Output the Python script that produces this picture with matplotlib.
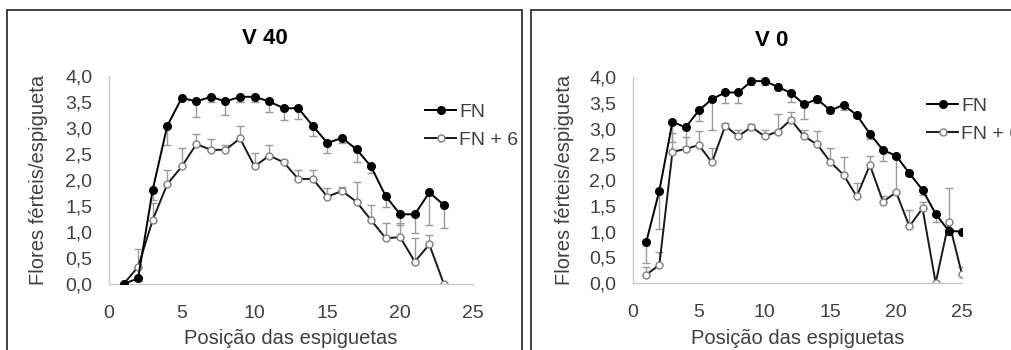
import matplotlib
matplotlib.use('Agg')
import matplotlib.pyplot as plt
from matplotlib.patches import Rectangle

plt.rcParams['font.family'] = ['Liberation Sans', 'DejaVu Sans']

# V 40 panel
pos_v40 = list(range(1, 24))
fn_v40 = [0.0, 0.11, 1.81, 3.04, 3.58, 3.51, 3.60, 3.51, 3.60, 3.60, 3.51, 3.38,
          3.38, 3.04, 2.71, 2.81, 2.59, 2.26, 1.69, 1.34, 1.34, 1.76, 1.52]
fn_v40_err = [0.0, 0.05, 0.20, 0.37, 0.05, 0.30, 0.10, 0.26, 0.10, 0.10, 0.20, 0.23,
              0.20, 0.20, 0.20, 0.10, 0.24, 0.12, 0.20, 0.20, 0.35, 0.63, 0.45]
fn6_v40 = [0.0, 0.33, 1.23, 1.92, 2.26, 2.69, 2.58, 2.58, 2.80, 2.26, 2.47, 2.34,
           2.02, 2.02, 1.68, 1.79, 1.58, 1.23, 0.88, 0.90, 0.43, 0.76, 0.0]
fn6_v40_err = [0.0, 0.34, 0.33, 0.27, 0.36, 0.19, 0.20, 0.10, 0.23, 0.25, 0.20, 0.05,
               0.17, 0.17, 0.16, 0.08, 0.39, 0.28, 0.29, 0.28, 0.45, 0.18, 0.0]

# V 0 panel
pos_v0 = list(range(1, 26))
fn_v0 = [0.79, 1.79, 3.13, 3.02, 3.35, 3.57, 3.70, 3.70, 3.92, 3.92, 3.81, 3.69, 3.47,
         3.57, 3.35, 3.46, 3.26, 2.90, 2.58, 2.47, 2.13, 1.81, 1.34, 1.01, 1.00]
fn_v0_err = [0.41, 0.75, 0.40, 0.37, 0.20, 0.60, 0.20, 0.20, 0.08, 0.08, 0.07, 0.17, 0.29,
             0.08, 0.05, 0.10, 0.06, 0.10, 0.22, 0.05, 0.05, 0.10, 0.16, 0.07, 0.0]
fn6_v0 = [0.16, 0.35, 2.55, 2.60, 2.68, 2.34, 3.05, 2.85, 3.03, 2.85, 2.94, 3.17, 2.85,
          2.69, 2.35, 2.10, 1.68, 2.29, 1.58, 1.76, 1.10, 1.45, 0.0, 1.19, 0.17]
fn6_v0_err = [0.16, 0.26, 0.37, 0.24, 0.27, 0.28, 0.05, 0.12, 0.05, 0.13, 0.34, 0.15, 0.13,
              0.26, 0.27, 0.35, 0.26, 0.18, 0.10, 0.66, 0.32, 0.13, 0.0, 0.66, 0.15]

yticks = [0, 0.5, 1, 1.5, 2, 2.5, 3, 3.5, 4]
ytick_labels = ['0,0', '0,5', '1,0', '1,5', '2,0', '2,5', '3,0', '3,5', '4,0']
xticks = [0, 5, 10, 15, 20, 25]

W, H = 1011, 350
fig = plt.figure(figsize=(W / 100, H / 100), dpi=100)


def px(x, y):
    return x / W, 1 - y / H


def panel(ax_box, title, title_xy, ylab_x, leg_xy, pos, fn, fn_err, fn6, fn6_err):
    x0, y0, x1, y1 = ax_box
    ax = fig.add_axes([x0 / W, 1 - y1 / H, (x1 - x0) / W, (y1 - y0) / H])
    zeros = [0] * len(pos)
    ax.errorbar(pos, fn, yerr=[fn_err, zeros], fmt='none', ecolor='#9a9a9a',
                elinewidth=1, capsize=3, capthick=1, zorder=1)
    ax.errorbar(pos, fn6, yerr=[zeros, fn6_err], fmt='none', ecolor='#9a9a9a',
                elinewidth=1, capsize=3, capthick=1, zorder=1)
    ax.plot(pos, fn, color='black', lw=1.4, marker='o', ms=5.5,
            mfc='black', mec='black', label='FN', zorder=3)
    ax.plot(pos, fn6, color='#1a1a1a', lw=1.4, marker='o', ms=5,
            mfc='white', mec='#808080', mew=1, label='FN + 6', zorder=2)
    ax.set_xlim(0, 25)
    ax.set_ylim(0, 4)
    ax.set_xticks(xticks)
    ax.set_yticks(yticks)
    ax.set_yticklabels(ytick_labels)
    ax.tick_params(length=0, labelsize=14, colors='#404040')
    ax.tick_params(axis='x', pad=15)
    ax.tick_params(axis='y', pad=12)
    for s in ['top', 'right']:
        ax.spines[s].set_visible(False)
    for s in ['left', 'bottom']:
        ax.spines[s].set_color('#c8c8c8')
        ax.spines[s].set_linewidth(1)
    ax.patch.set_alpha(0)

    fig.text(*px(*title_xy), title, fontsize=16, fontweight='bold',
             ha='center', va='center', color='black')
    fig.text(*px(ylab_x, (y0 + y1) / 2), 'Flores férteis/espigueta', fontsize=14.5,
             rotation=90, ha='center', va='center', color='#404040')
    fig.text(*px((x0 + x1) / 2, 338), 'Posição das espiguetas', fontsize=14.5,
             ha='center', va='center', color='#404040')
    leg = ax.legend(loc='upper left', bbox_to_anchor=px(*leg_xy),
                    bbox_transform=fig.transFigure, frameon=False, fontsize=14,
                    handlelength=1.6, handletextpad=0.15, labelspacing=0.55,
                    borderpad=0, borderaxespad=0)
    for t in leg.get_texts():
        t.set_color('#404040')
    return ax


# panel frames
fig.patches.append(Rectangle((7 / W, -0.1), (522 - 7) / W, 1.1 - 10 / H,
                             transform=fig.transFigure, fill=False,
                             edgecolor='#333333', lw=1.3))
fig.patches.append(Rectangle((531 / W, -0.1), 1.0, 1.1 - 10 / H,
                             transform=fig.transFigure, fill=False,
                             edgecolor='#333333', lw=1.3))

panel((109, 76, 473, 284), 'V 40', (265, 38), 39, (425, 103),
      pos_v40, fn_v40, fn_v40_err, fn6_v40, fn6_v40_err)
panel((633, 77, 962, 283), 'V 0', (772, 40), 564, (927, 97),
      pos_v0, fn_v0, fn_v0_err, fn6_v0, fn6_v0_err)

fig.savefig('out.png', dpi=100)
